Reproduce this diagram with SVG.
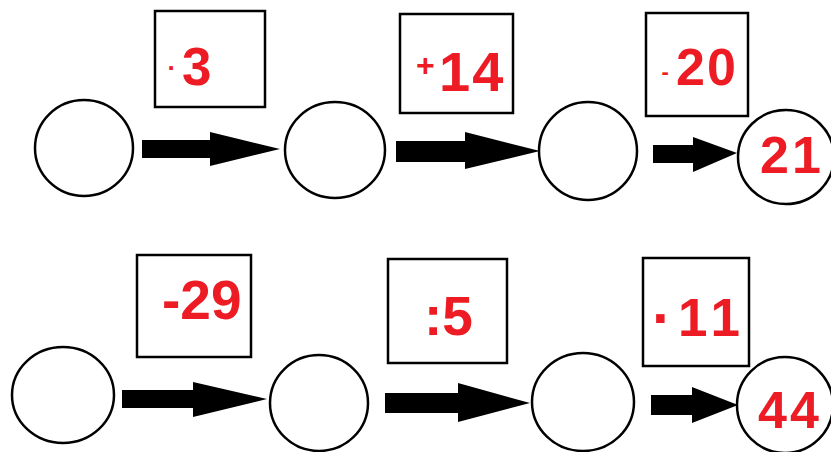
<svg xmlns="http://www.w3.org/2000/svg" width="831" height="452" viewBox="0 0 831 452">
  <style>
    .node { fill: #ffffff; stroke: #000000; stroke-width: 2.5; }
    .op { fill: #ffffff; stroke: #000000; stroke-width: 2.5; }
    .num { fill: #ed1c24; font-family: "Liberation Sans", Arial, sans-serif; font-weight: bold; }
    .arrow { fill: #000000; }
  </style>
  <rect width="831" height="452" fill="#ffffff"/>

  <!-- connectors: block arrows between nodes -->
  <g id="connectors">
    <polygon class="arrow" points="142,140 210,140 210,132 280,149 210,166 210,158 142,158"/>
    <polygon class="arrow" points="396,141 465,141 465,132 540,151 465,169 465,162 396,162"/>
    <polygon class="arrow" points="653,145 693,145 693,137 737,153 693,172 693,163 653,163"/>
    <polygon class="arrow" points="122,390 193,390 193,382 267,399 193,417 193,408 122,408"/>
    <polygon class="arrow" points="385,393 458,393 458,383 530,403 458,422 458,413 385,413"/>
    <polygon class="arrow" points="651,395 692,395 692,387 738,405 692,423 692,415 651,415"/>
  </g>

  <!-- top row -->
  <g id="n1"><ellipse class="node" cx="84" cy="148" rx="49" ry="48"/></g>
  <g id="op1">
    <rect class="op" x="155" y="11" width="110" height="96"/>
    <text class="num" x="167.5" y="77" font-size="26">·</text>
    <text class="num" x="182" y="85" font-size="53">3</text>
  </g>
  <g id="n2"><ellipse class="node" cx="335" cy="150" rx="50" ry="48"/></g>
  <g id="op2">
    <rect class="op" x="400" y="14" width="113" height="99"/>
    <text class="num" x="416" y="76" font-size="32">+</text>
    <text class="num" x="439" y="91" font-size="56" letter-spacing="2">14</text>
  </g>
  <g id="n3"><ellipse class="node" cx="588" cy="151" rx="49" ry="49"/></g>
  <g id="op3">
    <rect class="op" x="646" y="13" width="102" height="103"/>
    <text class="num" x="661.5" y="78.5" font-size="22">-</text>
    <text class="num" x="676" y="85" font-size="52" letter-spacing="2">20</text>
  </g>
  <g id="n4">
    <ellipse class="node" cx="786" cy="157" rx="48" ry="47"/>
    <text class="num" x="760" y="173" font-size="52" letter-spacing="3">21</text>
  </g>

  <!-- bottom row -->
  <g id="n5"><ellipse class="node" cx="63" cy="395" rx="51" ry="48"/></g>
  <g id="op4">
    <rect class="op" x="137" y="255" width="114" height="102"/>
    <text class="num" x="162" y="319" font-size="55">-29</text>
  </g>
  <g id="n6"><ellipse class="node" cx="319" cy="403" rx="49" ry="48"/></g>
  <g id="op5">
    <rect class="op" x="388" y="259" width="119" height="104"/>
    <text class="num" x="424" y="335" font-size="55">:5</text>
  </g>
  <g id="n7"><ellipse class="node" cx="583" cy="402" rx="51" ry="49"/></g>
  <g id="op6">
    <rect class="op" x="643" y="258" width="106" height="108"/>
    <text class="num" x="652" y="338" font-size="60">·</text>
    <text class="num" x="678" y="336" font-size="53" letter-spacing="6">11</text>
  </g>
  <g id="n8">
    <ellipse class="node" cx="785" cy="405" rx="48" ry="48"/>
    <text class="num" x="758" y="428" font-size="52" letter-spacing="3">44</text>
  </g>
</svg>
